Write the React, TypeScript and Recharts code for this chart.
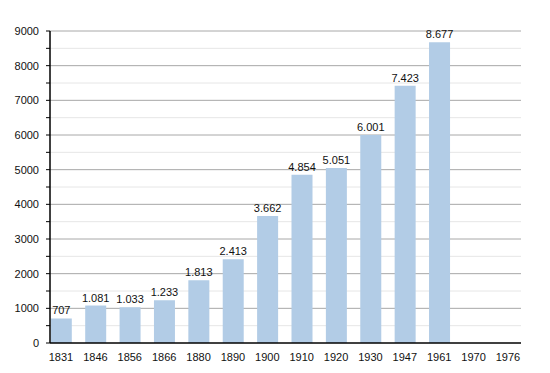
import { Bar, BarChart, CartesianGrid, LabelList, XAxis, YAxis } from "recharts";

const years = ["1831", "1846", "1856", "1866", "1880", "1890", "1900", "1910", "1920", "1930", "1947", "1961", "1970", "1976"];
const population = [707, 1081, 1033, 1233, 1813, 2413, 3662, 4854, 5051, 6001, 7423, 8677, null, null];
const yTicks = [0, 500, 1000, 1500, 2000, 2500, 3000, 3500, 4000, 4500, 5000, 5500, 6000, 6500, 7000, 7500, 8000, 8500, 9000];
const majorLines = [1000, 2000, 3000, 4000, 5000, 6000, 7000, 8000, 9000];
const minorLines = [500, 1500, 2500, 3500, 4500, 5500, 6500, 7500, 8500];

const data = years.map((year, i) => ({ year, value: population[i] }));

const fmt = (v: number | null) => (v == null ? "" : v.toLocaleString("de-DE"));

const font = "'Liberation Sans', Arial, sans-serif";

function YTick({ x, y, payload }: any) {
  if (payload.value % 1000 !== 0) return null;
  return (
    <text x={x} y={y} dy={4} textAnchor="end" fontSize={11} fill="#111" fontFamily={font}>
      {payload.value}
    </text>
  );
}

export default function App() {
  return (
    <div style={{ position: "absolute", left: 0, top: 0, width: 550, height: 373, background: "#fff" }}>
      <BarChart width={550} height={373} data={data} margin={{ top: 31, right: 29, left: 0, bottom: 10 }}>
        <CartesianGrid vertical={false} horizontalValues={minorLines} stroke="#e6e6e6" strokeWidth={1} />
        <CartesianGrid vertical={false} horizontalValues={majorLines} stroke="#a8a8a8" strokeWidth={1} />
        <XAxis
          dataKey="year"
          scale="point"
          padding={{ left: 11, right: 13 }}
          height={20}
          tickLine={false}
          axisLine={{ stroke: "#000", strokeWidth: 1.5 }}
          tick={{ fontSize: 11, fill: "#111", fontFamily: font }}
          tickMargin={4}
          interval={0}
        />
        <YAxis
          width={50}
          domain={[0, 9000]}
          ticks={yTicks}
          interval={0}
          tickSize={4}
          tickLine={{ stroke: "#000" }}
          axisLine={{ stroke: "#000", strokeWidth: 1.5 }}
          tick={<YTick />}
          tickMargin={7}
        />
        <Bar dataKey="value" fill="#b2cce6" barSize={21} isAnimationActive={false}>
          <LabelList
            dataKey="value"
            position="top"
            offset={4}
            formatter={(v: any) => fmt(v)}
            style={{ fontSize: 11, fill: "#111", fontFamily: font }}
          />
        </Bar>
      </BarChart>
    </div>
  );
}
